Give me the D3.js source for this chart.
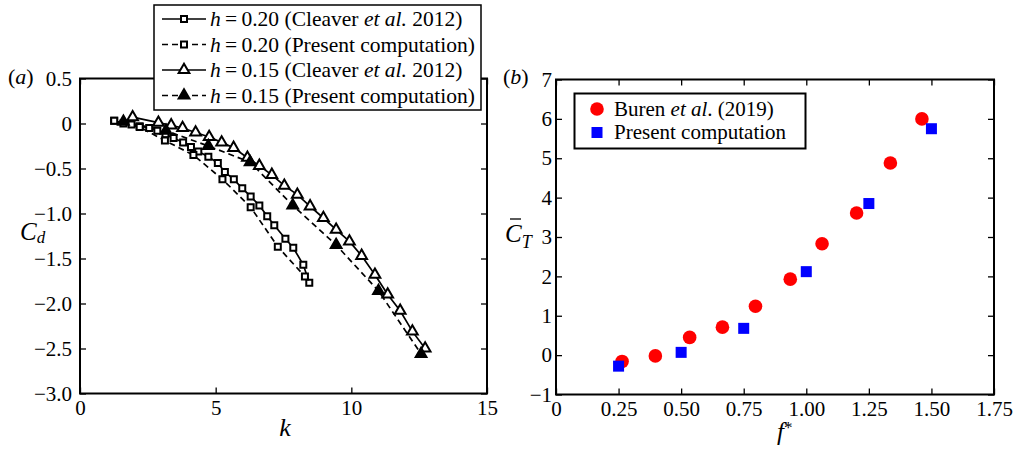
<!DOCTYPE html>
<html>
<head>
<meta charset="utf-8">
<script src="https://cdn.jsdelivr.net/npm/d3@7"></script>
<style>
  html, body { margin: 0; padding: 0; background: #fff; }
  svg { display: block; font-family: "Liberation Serif", "Times New Roman", serif; }
</style>
</head>
<body>
<svg id="chart" width="1017" height="449"></svg>
<script>
// ---------- Panel (a) data ----------
const h20CleaverK  = [1.26, 1.6, 1.9, 2.2, 2.55, 2.85, 3.15, 3.45, 3.8, 4.09, 4.36, 4.73, 5.08, 5.34, 5.67, 5.98, 6.29, 6.61, 6.9, 7.16, 7.57, 7.86, 8.23, 8.45];
const h20CleaverCd = [0.03, 0.0, -0.01, -0.03, -0.05, -0.08, -0.12, -0.16, -0.21, -0.26, -0.31, -0.37, -0.44, -0.54, -0.62, -0.72, -0.81, -0.91, -1.03, -1.13, -1.28, -1.38, -1.57, -1.77];
const h20PresentK  = [1.26, 2.2, 3.13, 4.18, 5.25, 6.29, 7.29, 8.29];
const h20PresentCd = [0.03, -0.04, -0.19, -0.35, -0.62, -0.93, -1.37, -1.70];
const h15CleaverK  = [1.94, 2.89, 3.36, 3.78, 4.26, 4.76, 5.22, 5.66, 6.17, 6.61, 7.07, 7.53, 8.01, 8.48, 8.97, 9.44, 9.93, 10.38, 10.87, 11.34, 11.8, 12.25, 12.72];
const h15CleaverCd = [0.07, 0.01, -0.02, -0.05, -0.10, -0.15, -0.21, -0.27, -0.38, -0.47, -0.57, -0.69, -0.79, -0.92, -1.05, -1.18, -1.31, -1.47, -1.68, -1.90, -2.08, -2.31, -2.50];
const h15PresentK  = [1.6, 3.17, 4.73, 6.27, 7.84, 9.44, 11.0, 12.57];
const h15PresentCd = [0.02, -0.08, -0.25, -0.43, -0.91, -1.35, -1.86, -2.56];
const aXTicks = [0, 5, 10, 15];
const aXTickLabels = ["0", "5", "10", "15"];
const aYTicks = [0.5, 0, -0.5, -1.0, -1.5, -2.0, -2.5, -3.0];
const aYTickLabels = ["0.5", "0", "\u22120.5", "\u22121.0", "\u22121.5", "\u22122.0", "\u22122.5", "\u22123.0"];

// ---------- Panel (b) data ----------
const burenF  = [0.264, 0.397, 0.534, 0.665, 0.797, 0.936, 1.063, 1.201, 1.336, 1.462];
const burenCT = [-0.16, -0.02, 0.45, 0.71, 1.24, 1.93, 2.83, 3.61, 4.88, 6.0];
const presentF  = [0.25, 0.5, 0.75, 1.0, 1.25, 1.5];
const presentCT = [-0.28, 0.07, 0.68, 2.12, 3.85, 5.75];
const bXTicks = [0, 0.25, 0.5, 0.75, 1.0, 1.25, 1.5, 1.75];
const bXTickLabels = ["0", "0.25", "0.50", "0.75", "1.00", "1.25", "1.50", "1.75"];
const bYTicks = [-1, 0, 1, 2, 3, 4, 5, 6, 7];
const bYTickLabels = ["\u22121", "0", "1", "2", "3", "4", "5", "6", "7"];

const svg = d3.select("#chart");
const FONT = 21;

function zip(xs, ys) { return xs.map((x, i) => [x, ys[i]]); }

function frame(g, x, y, xt, xl, yt, yl, ypad) {
  const [x0, x1] = x.range(), [y0, y1] = y.range();
  const tickLen = 6;
  const ax = (axis, tr, labels) => {
    const gg = g.append("g").attr("transform", tr).call(axis);
    gg.select(".domain").remove();
    gg.selectAll("line").attr("stroke", "#000").attr("stroke-width", 1.3);
    gg.selectAll("text").attr("font-size", FONT).attr("font-family", "Liberation Serif").attr("fill", "#000");
    if (!labels) gg.selectAll("text").remove();
    return gg;
  };
  ax(d3.axisBottom(x).tickValues(xt).tickFormat((d, i) => xl[i]).tickSizeInner(-tickLen).tickSizeOuter(0).tickPadding(7), `translate(0,${y0})`, true);
  ax(d3.axisTop(x).tickValues(xt).tickSizeInner(-tickLen).tickSizeOuter(0), `translate(0,${y1})`, false);
  ax(d3.axisLeft(y).tickValues(yt).tickFormat((d, i) => yl[i]).tickSizeInner(-tickLen).tickSizeOuter(0).tickPadding(ypad), `translate(${x0},0)`, true);
  ax(d3.axisRight(y).tickValues(yt).tickSizeInner(-tickLen).tickSizeOuter(0), `translate(${x1},0)`, false);
  g.append("rect").attr("x", x0).attr("y", y1).attr("width", x1 - x0).attr("height", y0 - y1)
    .attr("fill", "none").attr("stroke", "#000").attr("stroke-width", 2);
}

// ---------- Panel (a) ----------
const xa = d3.scaleLinear().domain([0, 15]).range([80, 487]);
const ya = d3.scaleLinear().domain([-3, 0.5]).range([393.5, 78.5]);
const ga = svg.append("g");
frame(ga, xa, ya, aXTicks, aXTickLabels, aYTicks, aYTickLabels, 8);

const lineA = d3.line().x(d => xa(d[0])).y(d => ya(d[1]));
const seriesA = [
  { pts: zip(h20CleaverK, h20CleaverCd), dash: null, marker: "square", fill: "#fff" },
  { pts: zip(h20PresentK, h20PresentCd), dash: "6,4", marker: "square", fill: "#fff" },
  { pts: zip(h15CleaverK, h15CleaverCd), dash: null, marker: "triangle", fill: "#fff" },
  { pts: zip(h15PresentK, h15PresentCd), dash: "6,4", marker: "triangle", fill: "#000" }
];
const sqSym = d3.symbol().type(d3.symbolSquare).size(36);
const triSym = d3.symbol().type(d3.symbolTriangle).size(50);
function drawMarker(g, kind, fill, cx, cy) {
  g.append("path").attr("d", kind === "square" ? sqSym() : triSym())
    .attr("transform", `translate(${cx},${cy})`)
    .attr("fill", fill).attr("stroke", "#000").attr("stroke-width", 2);
}
seriesA.forEach(s => {
  ga.append("path").datum(s.pts).attr("d", lineA).attr("fill", "none")
    .attr("stroke", "#000").attr("stroke-width", 1.7).attr("stroke-dasharray", s.dash);
});
seriesA.forEach(s => {
  s.pts.forEach(p => drawMarker(ga, s.marker, s.fill, xa(p[0]), ya(p[1])));
});

// panel label and axis labels
svg.append("text").attr("x", 8).attr("y", 84).attr("font-size", 22)
  .html('(<tspan font-style="italic">a</tspan>)');
svg.append("text").attr("x", 285).attr("y", 436).attr("font-size", 26).attr("font-style", "italic")
  .attr("text-anchor", "middle").text("k");
const cdLab = svg.append("text").attr("x", 20).attr("y", 240).attr("font-size", 25).attr("font-style", "italic");
cdLab.append("tspan").text("C");
cdLab.append("tspan").attr("font-size", 17).attr("dy", 3).text("d");

// legend (a)
const lga = svg.append("g");
lga.append("rect").attr("x", 154).attr("y", 5).attr("width", 327).attr("height", 105)
  .attr("fill", "#fff").attr("stroke", "#000").attr("stroke-width", 1.5);
const legA = [
  { h: "0.20", src: "cleaver", s: seriesA[0] },
  { h: "0.20", src: "present", s: seriesA[1] },
  { h: "0.15", src: "cleaver", s: seriesA[2] },
  { h: "0.15", src: "present", s: seriesA[3] }
];
legA.forEach((d, i) => {
  const cy = 19 + i * 25.5;
  lga.append("line").attr("x1", 162).attr("x2", 206).attr("y1", cy).attr("y2", cy)
    .attr("stroke", "#000").attr("stroke-width", 1.7).attr("stroke-dasharray", d.s.dash);
  drawMarker(lga, d.s.marker, d.s.fill, 184, cy);
  const t = lga.append("text").attr("x", 210).attr("y", cy + 7).attr("font-size", 21.5);
  t.append("tspan").attr("font-style", "italic").text("h");
  if (d.src === "cleaver") {
    t.append("tspan").text(`\u2009=\u2009${d.h} (Cleaver `);
    t.append("tspan").attr("font-style", "italic").text("et al.");
    t.append("tspan").text(" 2012)");
  } else {
    t.append("tspan").text(`\u2009=\u2009${d.h} (Present computation)`);
  }
});

// ---------- Panel (b) ----------
const xb = d3.scaleLinear().domain([0, 1.75]).range([556, 994]);
const yb = d3.scaleLinear().domain([-1, 7]).range([394.5, 79.5]);
const gb = svg.append("g");
frame(gb, xb, yb, bXTicks, bXTickLabels, bYTicks, bYTickLabels, 4);

gb.selectAll("circle.buren").data(zip(burenF, burenCT)).enter().append("circle")
  .attr("cx", d => xb(d[0])).attr("cy", d => yb(d[1])).attr("r", 6.8).attr("fill", "#ff0000");
gb.selectAll("rect.pres").data(zip(presentF, presentCT)).enter().append("rect")
  .attr("x", d => xb(d[0]) - 5.5).attr("y", d => yb(d[1]) - 5.5).attr("width", 11).attr("height", 11).attr("fill", "#0000ff");

svg.append("text").attr("x", 503).attr("y", 84).attr("font-size", 22)
  .html('(<tspan font-style="italic">b</tspan>)');
svg.append("text").attr("x", 777).attr("y", 440).attr("font-size", 25).attr("font-style", "italic")
  .html('f<tspan font-style="normal" font-size="17" dy="-7">*</tspan>');
const ctLab = svg.append("text").attr("x", 505).attr("y", 242).attr("font-size", 25).attr("font-style", "italic");
ctLab.append("tspan").text("C");
ctLab.append("tspan").attr("font-size", 18).attr("dy", 6).text("T");
svg.append("line").attr("x1", 510).attr("x2", 521).attr("y1", 219).attr("y2", 219).attr("stroke", "#000").attr("stroke-width", 1.3);

// legend (b)
const lgb = svg.append("g");
lgb.append("rect").attr("x", 574.5).attr("y", 93.5).attr("width", 231).attr("height", 55)
  .attr("fill", "#fff").attr("stroke", "#000").attr("stroke-width", 2);
lgb.append("circle").attr("cx", 597).attr("cy", 109).attr("r", 6.8).attr("fill", "#ff0000");
lgb.append("rect").attr("x", 591.5).attr("y", 127).attr("width", 11).attr("height", 11).attr("fill", "#0000ff");
const lb1 = lgb.append("text").attr("x", 614).attr("y", 116).attr("font-size", 21);
lb1.append("tspan").text("Buren ");
lb1.append("tspan").attr("font-style", "italic").text("et al");
lb1.append("tspan").text(". (2019)");
lgb.append("text").attr("x", 614).attr("y", 139).attr("font-size", 21).text("Present computation");
</script>
</body>
</html>
